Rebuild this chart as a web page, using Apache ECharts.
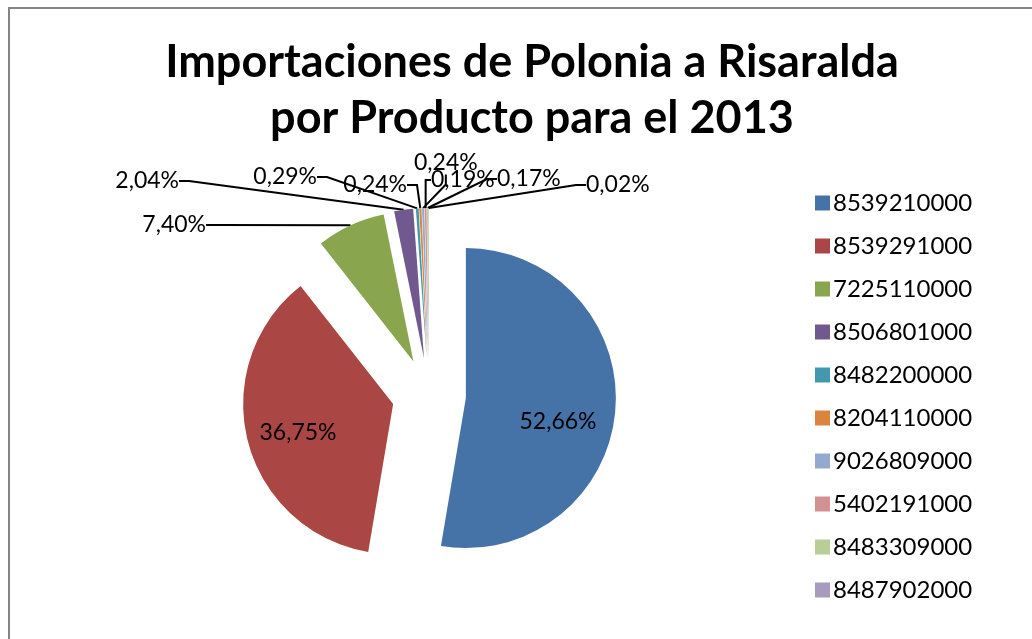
<!DOCTYPE html>
<html>
<head>
<meta charset="utf-8">
<script src="https://cdn.jsdelivr.net/npm/echarts@6/dist/echarts.min.js"></script>
<style>
html,body{margin:0;padding:0;background:#fff;}
#frame{position:absolute;left:8px;top:7px;width:1100px;height:700px;border-left:2px solid #858585;border-top:2px solid #858585;box-sizing:border-box;}
#chart{position:absolute;left:0;top:0;width:1032px;height:639px;}
</style>
</head>
<body>
<div id="frame"></div>
<div id="chart"></div>
<script>
const categories = ['8539210000','8539291000','7225110000','8506801000','8482200000','8204110000','9026809000','5402191000','8483309000','8487902000'];
const shares = [52.66, 36.75, 7.40, 2.04, 0.29, 0.24, 0.24, 0.19, 0.17, 0.02];
const titleText = 'Importaciones de Polonia a Risaralda\npor Producto para el 2013';
const colors = ['#4572A7','#AA4643','#89A54E','#71588F','#4198AF','#DB843D','#93A9CF','#D19392','#B9CD96','#A99BBD'];
// label placement (x, y, align)
const labelPlace = [
  [558, 422, 'center'], [298, 433, 'center'], [211, 225, 'right'], [184, 181, 'right'],
  [322, 177, 'right'], [412, 185, 'right'], [409, 163, 'left'], [426, 180, 'left'],
  [492, 179, 'left'], [581, 185, 'left']
];

const chart = echarts.init(document.getElementById('chart'), null, {renderer:'canvas'});
const fontFam = 'Lato, "Open Sans", sans-serif';
const fmt = p => shares[p.dataIndex].toFixed(2).replace('.', ',') + '%';
chart.setOption({
  animation: false,
  color: colors,
  title: {
    text: titleText,
    left: 527, textAlign: 'center', top: 29,
    textStyle: {fontFamily: fontFam, fontWeight: 'bold', fontSize: 45, lineHeight: 56, color: '#000'}
  },
  legend: {
    orient: 'vertical', left: 810, top: 186, height: 440,
    icon: 'rect', itemWidth: 15, itemHeight: 15, itemGap: 19,
    selectedMode: false,
    textStyle: {fontFamily: fontFam, fontSize: 24, color: '#000', padding: [0,0,0,-2]},
    data: categories
  },
  series: [{
    type: 'pie',
    center: [429, 395],
    radius: 150,
    startAngle: 90,
    clockwise: true,
    selectedMode: 'multiple',
    selectedOffset: 37,
    emphasis: {disabled: true},
    label: {show: false},
    labelLine: {show: false},
    data: categories.map((c, i) => ({name: c, value: shares[i], selected: true}))
  }, {
    type: 'pie',
    center: [429, 395],
    radius: 187,
    startAngle: 90,
    clockwise: true,
    silent: true,
    avoidLabelOverlap: false,
    emphasis: {disabled: true},
    itemStyle: {color: 'rgba(0,0,0,0)'},
    label: {show: true, fontFamily: fontFam, fontSize: 23, color: '#000', formatter: fmt, padding: [0, 5]},
    labelLine: {show: true, lineStyle: {color: '#000', width: 2}, length: 10, length2: 10},
    labelLayout: function (params) {
      const lp = labelPlace[params.dataIndex];
      return {x: lp[0], y: lp[1], align: lp[2], verticalAlign: 'middle'};
    },
    data: categories.map((c, i) => ({
      name: c, value: shares[i],
      label: i < 2 ? {position: 'inside'} : {position: 'outside'},
      labelLine: {show: i >= 2}
    }))
  }]
});
</script>
</body>
</html>
